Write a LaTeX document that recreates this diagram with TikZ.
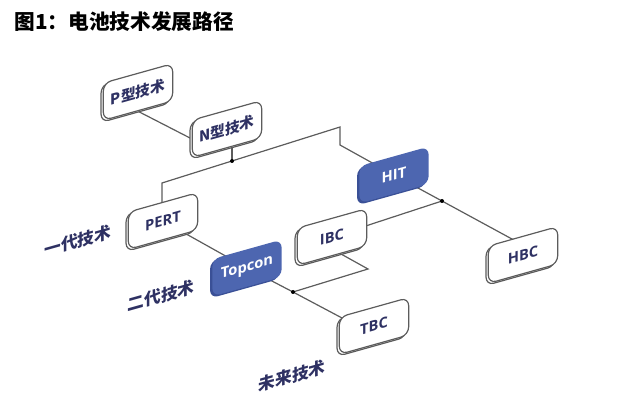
\documentclass[tikz,border=0pt]{standalone}
\usepackage{fontspec}
\setmainfont{Open Sans}
\newfontfamily\cjk{Noto Sans CJK SC}
\usetikzlibrary{shadows,backgrounds,calc}
\definecolor{navy}{HTML}{2E3163}
\definecolor{tblue}{HTML}{4D66B0}
\definecolor{tblueshade}{HTML}{3A5096}
\definecolor{edge}{HTML}{5C5C5C}

\begin{document}
\begin{tikzpicture}[x=0.75pt, y=-0.75pt,
  tile/.style = {shape=rectangle, rounded corners=6pt, minimum width=52pt, minimum height=28pt,
    inner sep=0pt, yslant=0.28, font=\bfseries\fontsize{11}{13}\selectfont},
  box/.style = {tile, draw=edge, line width=0.9pt, fill=white, text=navy,
    copy shadow={shadow xshift=-1.7pt, shadow yshift=-1.5pt, fill=white, draw=edge, line width=0.9pt}},
  bluebox/.style = {tile, fill=tblue, text=white,
    copy shadow={shadow xshift=-1.7pt, shadow yshift=-1.5pt, fill=tblueshade, draw=none}},
  lbl/.style = {yslant=0.28, text=navy, font=\cjk\bfseries\fontsize{12.5}{14}\selectfont},
  link/.style = {draw=edge, line width=0.9pt},
  jdot/.style = {circle, fill=black, inner sep=0pt, minimum size=3pt}]
\useasboundingbox (0,0) rectangle (626,403);

\node[anchor=west, font=\cjk\bfseries\fontsize{15.5}{18}\selectfont] (title) at (10,22) {图1：电池技术发展路径};

% boxes
\node[box] (P) at (138,92) {\cjk P型技术};
\node[box] (N) at (227,129) {\cjk N型技术};
\node[bluebox] (HIT) at (394,175) {HIT};
\node[box] (PERT) at (163,221) {PERT};
\node[box] (IBC) at (332,237) {IBC};
\node[box] (HBC) at (523,255) {HBC};
\node[bluebox] (Topcon) at (247,268) {Topcon};
\node[box] (TBC) at (374,326) {TBC};

\node[lbl] (gen1) at (78,241) {一代技术};
\node[lbl] (gen2) at (161,296) {二代技术};
\node[lbl] (future) at (292,376) {未来技术};

% junctions
\coordinate (jN) at (232,161);
\coordinate (bL) at (162,183);
\coordinate (bR) at (340,127);
\coordinate (bR2) at (340,145);
\coordinate (jH) at (442,201);
\coordinate (jT) at (293,292);
\coordinate (tR) at (368,269);
\node[jdot] (dN) at (jN) {};
\node[jdot] (dH) at (jH) {};
\node[jdot] (dT) at (jT) {};

\begin{scope}[on background layer]
\draw[link] (P.south) -- (N.west);
\draw[link] (jN |- N.center) -- (jN);
\draw[link] (bL |- PERT.center) -- (bL) -- (bR) -- (bR2) -- (HIT.center);
\draw[link] (HIT.center) -- (jH) -- ($(HBC.center)+(0,-10)$);
\draw[link] (jH) -- (IBC.center);
\draw[link] (PERT.center) -- (Topcon.center);
\draw[link] (Topcon.center) -- (jT) -- ($(TBC.center)+(-15,1)$);
\draw[link] (jT) -- (tR) -- ($(IBC.center)+(0,12)$);
\end{scope}
\end{tikzpicture}
\end{document}
